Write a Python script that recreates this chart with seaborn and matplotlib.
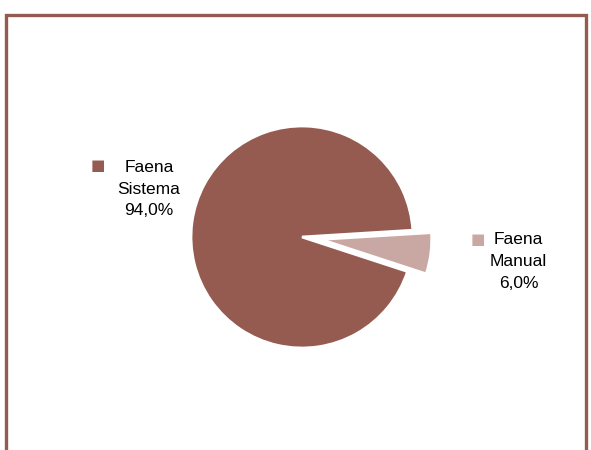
import matplotlib
matplotlib.use("Agg")
import matplotlib.pyplot as plt
import matplotlib.patches as mpatches
import seaborn as sns

# Data
categories = ["Faena\nSistema", "Faena\nManual"]
values = [94.0, 6.0]
colors = ["#955b50", "#c9a8a3"]
explode = [0, 0.17]

sns.set_theme(style="white")
plt.rcParams['font.family'] = ['Liberation Sans', 'DejaVu Sans']

fig = plt.figure(figsize=(5.91, 4.5), dpi=100)
W, H = 591, 450

# frame around the chart area (bottom edge runs off the image)
frame = mpatches.Rectangle((6 / W, -0.1), 580 / W, 1.1 - 15 / H, transform=fig.transFigure,
                           fill=False, edgecolor=colors[0], linewidth=2.4)
fig.patches.append(frame)

# pie axes: centre at (302, 237) px, radius 111 px
cx, cy, r = 302, 237, 111
half = 150
ax = fig.add_axes([(cx - half) / W, (H - cy - half) / H, 2 * half / W, 2 * half / H])
lim = half / r
ax.pie(values, colors=colors, explode=explode, startangle=3.5, counterclock=True,
       wedgeprops=dict(edgecolor="white", linewidth=2))
ax.set_xlim(-lim, lim)
ax.set_ylim(-lim, lim)
ax.set_aspect("equal")
ax.axis("off")

# labels with small legend squares
pcts = [f"{v:.1f}".replace(".", ",") + "%" for v in values]
label_pos = [(-1.38, 0.43), (1.95, -0.22)]
square_pos = [(-1.84, 0.64), (1.58, -0.02)]
for cat, pct, col, (tx, ty), (sx, sy) in zip(categories, pcts, colors, label_pos, square_pos):
    ax.text(tx, ty, f"{cat}\n{pct}", ha="center", va="center", fontsize=12.5,
            color="black", linespacing=1.55)
    ax.text(sx, sy, "■", ha="center", va="center", fontsize=11, color=col,
            family="DejaVu Sans")

fig.savefig("out.png", dpi=100)
